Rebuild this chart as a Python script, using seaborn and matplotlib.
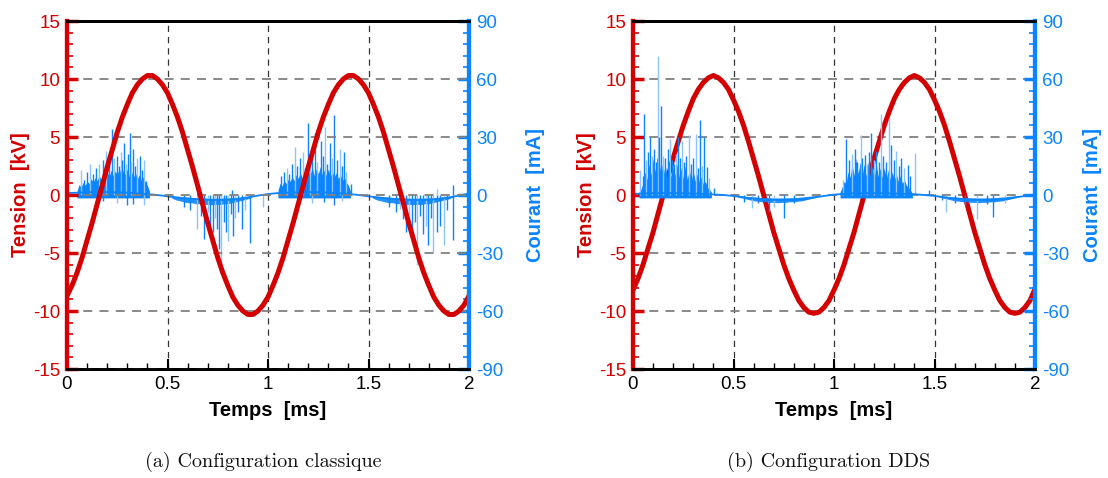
import numpy as np
import matplotlib
matplotlib.use("Agg")
import matplotlib.pyplot as plt
import seaborn as sns
from matplotlib.ticker import MultipleLocator, FormatStrFormatter

sns.set_theme(style="white")
plt.rcParams["font.family"] = ["Liberation Sans", "DejaVu Sans"]
plt.rcParams["axes.unicode_minus"] = False

RED = "#D40000"
BLUE = "#0A84FF"
LIGHT_BLUE = "#8CC4FF"

# ---------------------------------------------------------------------------
# Tension [kV], read every 0.025 ms
# ---------------------------------------------------------------------------
t_v = np.linspace(0, 2, 81)
v_a = [-8.7, -7.8, -6.7, -5.4, -3.9, -2.4, -0.8, 0.8, 2.4, 3.9, 5.4, 6.7, 7.8, 8.8, 9.5, 10.0, 10.3, 10.3, 10.0, 9.5,
       8.8, 7.8, 6.7, 5.4, 3.9, 2.4, 0.8, -0.8, -2.4, -3.9, -5.4, -6.7, -7.8, -8.8, -9.5, -10.0, -10.3, -10.3, -10.0, -9.5,
       -8.8, -7.8, -6.7, -5.4, -3.9, -2.4, -0.8, 0.8, 2.4, 3.9, 5.4, 6.7, 7.8, 8.8, 9.5, 10.0, 10.3, 10.3, 10.0, 9.5,
       8.8, 7.8, 6.7, 5.4, 3.9, 2.4, 0.8, -0.8, -2.4, -3.9, -5.4, -6.7, -7.8, -8.8, -9.5, -10.0, -10.3, -10.3, -10.0, -9.5,
       -8.7]
v_b = [-8.2, -7.2, -6.0, -4.6, -3.2, -1.6, 0.0, 1.6, 3.2, 4.6, 6.0, 7.2, 8.3, 9.1, 9.7, 10.1, 10.3, 10.1, 9.7, 9.1,
       8.2, 7.2, 6.0, 4.6, 3.1, 1.6, 0.0, -1.6, -3.2, -4.6, -6.0, -7.2, -8.2, -9.1, -9.7, -10.1, -10.2, -10.1, -9.7, -9.1,
       -8.2, -7.2, -6.0, -4.6, -3.2, -1.6, 0.0, 1.6, 3.2, 4.6, 6.0, 7.2, 8.3, 9.1, 9.7, 10.1, 10.3, 10.1, 9.7, 9.1,
       8.2, 7.2, 6.0, 4.6, 3.1, 1.6, 0.0, -1.6, -3.2, -4.6, -6.0, -7.2, -8.2, -9.1, -9.7, -10.1, -10.2, -10.1, -9.7, -9.1,
       -8.1]

# ---------------------------------------------------------------------------
# Courant [mA]: capacitive baseline
# ---------------------------------------------------------------------------
t_base = [0, 0.05, 0.1, 0.2, 0.3, 0.4, 0.45, 0.5, 0.55, 0.6, 0.65, 0.7, 0.75, 0.8, 0.85, 0.9, 0.95, 1.0,
          1.05, 1.1, 1.2, 1.3, 1.4, 1.45, 1.5, 1.55, 1.6, 1.65, 1.7, 1.75, 1.8, 1.85, 1.9, 1.95, 2.0]
base_a = [1.0, 1.2, 1.5, 1.5, 1.2, 0.5, 0.0, -0.7, -1.3, -1.8, -2.2, -2.5, -2.6, -2.5, -2.2, -1.3, -0.3, 0.5,
          1.0, 1.2, 1.5, 1.3, 0.6, 0.0, -0.7, -1.3, -1.8, -2.2, -2.5, -2.6, -2.5, -2.2, -1.3, -0.3, 0.8]
base_b = [0.5, 0.8, 1.0, 1.0, 0.8, 0.3, 0.0, -0.5, -1.2, -1.8, -2.2, -2.5, -2.6, -2.5, -2.2, -1.3, -0.5, 0.2,
          0.6, 0.9, 1.0, 0.8, 0.4, 0.0, -0.5, -1.2, -1.8, -2.2, -2.5, -2.6, -2.5, -2.2, -1.3, -0.5, 0.3]

# Dense discharge bursts (upper envelope, 0.01 ms step)
burst_a1_t = np.linspace(0.05, 0.41, 37)
burst_a1 = [2.0, 5.5, 4.0, 6.5, 5.0, 7.0, 6.0, 8.5, 6.5, 9.0, 7.5, 10.0, 8.0, 11.0, 9.0, 12.0, 9.5, 13.0, 10.0,
            12.5, 10.5, 14.0, 10.0, 13.0, 10.5, 13.5, 9.5, 12.5, 9.0, 11.5, 8.5, 10.5, 7.5, 9.5, 6.5, 5.0, 2.0]
burst_a2_t = np.linspace(1.05, 1.41, 37)
burst_a2 = [2.5, 6.0, 4.5, 7.5, 6.0, 8.0, 7.0, 9.5, 7.5, 10.5, 8.5, 11.5, 9.0, 12.5, 10.0, 13.0, 10.5, 14.0, 10.0,
            13.5, 11.0, 14.5, 10.5, 13.0, 10.0, 13.5, 9.5, 12.0, 9.5, 11.5, 8.5, 10.5, 7.5, 9.0, 6.5, 5.0, 2.0]
burst_b1_t = np.linspace(0.03, 0.39, 37)
burst_b1 = [1.5, 3.0, 6.0, 12.0, 8.0, 16.0, 10.0, 19.0, 12.0, 20.0, 11.0, 18.0, 10.0, 16.0, 9.0, 17.0, 9.5, 15.0,
            10.0, 16.0, 9.0, 14.0, 8.5, 15.0, 8.0, 13.0, 7.5, 12.0, 7.0, 11.0, 6.5, 9.5, 5.5, 7.0, 4.0, 3.0, 1.5]
burst_b2_t = np.linspace(1.03, 1.39, 37)
burst_b2 = [1.5, 4.0, 7.0, 6.0, 12.0, 9.0, 16.0, 10.0, 19.0, 11.0, 17.0, 10.0, 16.0, 9.5, 17.0, 10.0, 15.0, 9.0,
            16.0, 9.5, 14.0, 9.0, 14.0, 8.5, 13.0, 8.0, 12.0, 7.5, 11.0, 7.0, 10.0, 6.0, 8.0, 5.0, 4.0, 2.5, 1.0]

# Negative half-cycle band (upper / lower edge, 0.02 ms step)
band_t1 = np.linspace(0.52, 0.92, 21)
band_t2 = np.linspace(1.52, 1.92, 21)
band_a_hi = [-0.5, -0.6, -0.8, -1.0, -1.2, -1.3, -1.5, -1.5, -1.6, -1.6, -1.7, -1.6, -1.6, -1.5, -1.5, -1.3,
             -1.2, -1.0, -0.8, -0.6, -0.4]
band_a_lo = [-1.5, -2.5, -3.0, -3.5, -4.0, -4.0, -4.5, -4.5, -5.0, -4.8, -5.0, -4.8, -5.0, -4.5, -4.5, -4.0,
             -3.5, -3.0, -2.5, -2.0, -1.0]
band_b_hi = [-0.3, -0.5, -0.7, -0.9, -1.0, -1.2, -1.3, -1.4, -1.5, -1.5, -1.5, -1.5, -1.5, -1.4, -1.3, -1.2,
             -1.0, -0.8, -0.6, -0.4, -0.2]
band_b_lo = [-1.0, -1.5, -2.0, -2.5, -3.0, -3.2, -3.5, -3.5, -3.8, -3.8, -4.0, -3.8, -3.8, -3.5, -3.5, -3.2,
             -3.0, -2.5, -2.0, -1.5, -1.0]

# Individual spikes (time in ms, peak in mA)
spk_a_t = [0.071, 0.085, 0.10, 0.116, 0.13, 0.145, 0.16, 0.178, 0.19, 0.196, 0.21, 0.222, 0.235, 0.249, 0.258,
           0.267, 0.275, 0.284, 0.295, 0.303, 0.311, 0.32, 0.329, 0.34, 0.35, 0.364, 0.372, 0.382, 0.391,
           0.18, 0.25, 0.30, 0.33, 0.385,
           0.58, 0.61, 0.645, 0.667, 0.684, 0.70, 0.711, 0.725, 0.735, 0.747, 0.756, 0.768, 0.78, 0.791, 0.80,
           0.815, 0.827, 0.836, 0.85, 0.871, 0.885, 0.909, 0.82, 0.975,
           1.067, 1.08, 1.093, 1.105, 1.12, 1.134, 1.145, 1.16, 1.173, 1.185, 1.2, 1.21, 1.22, 1.236, 1.245,
           1.262, 1.272, 1.284, 1.295, 1.307, 1.318, 1.33, 1.345, 1.36, 1.37, 1.378, 1.39, 1.413,
           1.15, 1.22, 1.28, 1.33, 1.37,
           1.60, 1.636, 1.655, 1.671, 1.689, 1.70, 1.716, 1.73, 1.742, 1.755, 1.769, 1.787, 1.796, 1.81,
           1.822, 1.84, 1.858, 1.876, 1.89, 1.92, 1.842, 1.921]
spk_a_i = [13, 8, 12, 16, 11, 14, 16, 18, 15, 23, 17, 34, 19, 20, 15,
           22, 18, 27, 16, 21, 32, 17, 24, 15, 19, 20, 13, 18, 7,
           -3, -4, -5, -4.5, -5,
           -6, -8, -17.5, -11, -23, -9, -16, -19, -12, -17.5, -28, -41, -14, -19, -24,
           -10, -21, -12, -9, -17.5, -8, -25, 2.5, -6,
           10, 12, 14, 11, 16, 25, 15, 19, 22, 14, 37, 18, 21, 32, 17,
           28, 20, 35, 16, 27, 19, 41.5, 18, 24, 15, 22, 12, 5.5,
           -3, -4, -3.5, -5, -3,
           -6, -9, -7, -12.5, -19, -10, -23, -14, -36, -11, -20, -16, -26, -12,
           -29.5, -19, -16, -26, -8, -23.5, 3, 5]

spk_b_t = [0.035, 0.05, 0.053, 0.065, 0.075, 0.085, 0.095, 0.105, 0.115, 0.122, 0.127, 0.138, 0.15, 0.16, 0.172,
           0.185, 0.195, 0.205, 0.215, 0.223, 0.232, 0.243, 0.255, 0.265, 0.277, 0.288, 0.3, 0.315, 0.325, 0.335,
           0.345, 0.352, 0.368, 0.38, 0.402,
           0.55, 0.593, 0.62, 0.677, 0.702, 0.752, 0.8,
           1.043, 1.06, 1.075, 1.09, 1.102, 1.115, 1.132, 1.14, 1.152, 1.165, 1.175, 1.185, 1.198, 1.21, 1.222,
           1.232, 1.245, 1.258, 1.272, 1.285, 1.297, 1.31, 1.322, 1.335, 1.35, 1.368, 1.38, 1.402, 1.472,
           1.535, 1.557, 1.6, 1.65, 1.713, 1.76, 1.793, 1.85]
spk_b_i = [13, 10, 42, 18, 22, 30, 20, 24, 17, 72, 30, 46, 20, 19, 24,
           29, 18, 16, 21, 30, 19, 28, 17, 20, 31, 16, 19, 31.5, 14, 39,
           15, 30, 14.6, 9, 3.5,
           -3.5, -6.9, -4, -8.6, -6, -12, -4,
           7.8, 29, 18, 21, 24, 17, 31, 19, 20.7, 16, 22, 32, 18, 23, 17,
           42, 20, 17, 40, 26, 18, 23, 15, 19, 14, 15.5, 10, 21.5, 2.6,
           -2.6, -8.6, -4, -5, -12.6, -4.5, -11.5, -4]

panels = [
    dict(v=v_a, base=base_a, bursts=[(burst_a1_t, burst_a1), (burst_a2_t, burst_a2)],
         bands=(band_a_hi, band_a_lo), spk=(spk_a_t, spk_a_i), red_on_top=True,
         left=67, rpad=16, caption="(a) Configuration classique"),
    dict(v=v_b, base=base_b, bursts=[(burst_b1_t, burst_b1), (burst_b2_t, burst_b2)],
         bands=(band_b_hi, band_b_lo), spk=(spk_b_t, spk_b_i), red_on_top=False,
         left=633, rpad=10, caption="(b) Configuration DDS"),
]

W, H = 1108, 478
fig = plt.figure(figsize=(W / 100, H / 100), dpi=100)
TICK_FS = 13.5
LABEL_FS = 14.5

for p in panels:
    ax = fig.add_axes([p["left"] / W, 1 - 369 / H, 402 / W, 348 / H])
    ax2 = ax.twinx()

    # voltage
    sns.lineplot(x=t_v, y=p["v"], ax=ax, color=RED, linewidth=3.6, estimator=None, sort=False)

    # current
    for bt, bv in p["bursts"]:
        ax2.fill_between(bt, -1.5, bv, color=BLUE, linewidth=0)
    for tb in (band_t1, band_t2):
        ax2.fill_between(tb, p["bands"][1], p["bands"][0], color=BLUE, linewidth=0, alpha=0.9)
    st, si = p["spk"]
    cols = [BLUE if k % 3 else LIGHT_BLUE for k in range(len(st))]
    ax2.vlines(st, 0, si, colors=cols, linewidth=1.0)
    sns.lineplot(x=t_base, y=p["base"], ax=ax2, color=BLUE, linewidth=1.3, estimator=None, sort=False)

    if p["red_on_top"]:
        ax.set_zorder(ax2.get_zorder() + 1)
        ax.patch.set_visible(False)

    # axes and ticks
    ax.set_xlim(0, 2)
    ax.set_ylim(-15, 15)
    ax2.set_ylim(-90, 90)
    ax.xaxis.set_major_locator(MultipleLocator(0.5))
    ax.xaxis.set_minor_locator(MultipleLocator(0.1))
    ax.xaxis.set_major_formatter(FormatStrFormatter("%g"))
    ax.yaxis.set_major_locator(MultipleLocator(5))
    ax.yaxis.set_minor_locator(MultipleLocator(1))
    ax2.yaxis.set_major_locator(MultipleLocator(30))
    ax2.yaxis.set_minor_locator(MultipleLocator(6))

    ax.tick_params(axis="x", which="both", direction="in", bottom=True, top=False, colors="black",
                   labelsize=TICK_FS, pad=5)
    ax.tick_params(axis="x", which="major", length=7, width=1.5)
    ax.tick_params(axis="x", which="minor", length=4, width=1)
    ax.tick_params(axis="y", which="both", direction="in", left=True, right=False, colors=RED,
                   labelsize=TICK_FS, pad=5)
    ax.tick_params(axis="y", which="major", length=8, width=2.5)
    ax.tick_params(axis="y", which="minor", length=4, width=1.2)
    ax2.tick_params(axis="y", which="both", direction="in", right=True, left=False, colors=BLUE,
                    labelsize=TICK_FS, pad=5)
    ax2.tick_params(axis="y", which="major", length=8, width=2.5)
    ax2.tick_params(axis="y", which="minor", length=4, width=1.2)

    for a in (ax, ax2):
        a.spines["top"].set_color("black")
        a.spines["top"].set_linewidth(2)
        a.spines["bottom"].set_color("black")
        a.spines["bottom"].set_linewidth(2)
        a.spines["left"].set_color(RED)
        a.spines["left"].set_linewidth(3)
        a.spines["right"].set_color(BLUE)
        a.spines["right"].set_linewidth(3)

    ax.xaxis.grid(True, which="major", color="#333333", linewidth=0.9, linestyle=(0, (5, 4)))
    ax.yaxis.grid(True, which="major", color="#808080", linewidth=1.3, linestyle=(0, (5, 4)))
    ax.set_axisbelow(True)

    ax.set_ylabel("Tension  [kV]", color=RED, fontweight="bold", fontsize=LABEL_FS, labelpad=2)
    ax2.set_ylabel("Courant  [mA]", color=BLUE, fontweight="bold", fontsize=LABEL_FS, labelpad=p["rpad"])
    ax.set_xlabel("Temps  [ms]", color="black", fontweight="bold", fontsize=LABEL_FS, labelpad=6)

    fig.text((p["left"] + 196) / W, 1 - 462 / H, p["caption"], family="cmr10", fontsize=14.5,
             ha="center", va="center", color="#111111")

fig.savefig("out.png", dpi=100)
